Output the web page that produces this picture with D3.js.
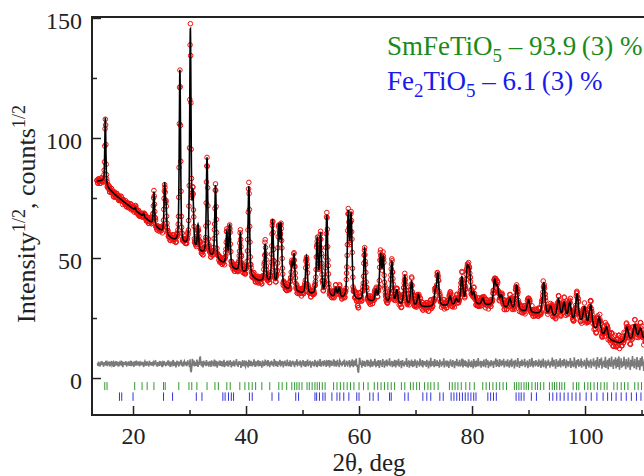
<!DOCTYPE html>
<html>
<head>
<meta charset="utf-8">
<script src="https://cdn.jsdelivr.net/npm/d3@7"></script>
<style>
  body { margin: 0; background: #fff; }
  svg { display: block; font-family: "Liberation Serif", "Times New Roman", Times, serif; }
</style>
</head>
<body>
<svg id="chart" width="644" height="476"></svg>
<script>
// background knots (2theta, sqrt intensity)
const bgX = [13.6, 14.6, 15.6, 17, 18.6, 20, 22, 24, 26, 28, 30, 32, 34, 36, 38, 40, 42, 44, 46, 48, 50, 53, 56, 60, 64, 68, 72, 76, 80, 84, 88, 92, 96, 100, 102, 104, 106, 108, 111.5];
const bgY = [82, 82, 79, 76, 73, 70.5, 67, 63, 59, 56, 54, 52, 50, 47.5, 45, 43, 40.5, 39.5, 37.5, 36, 35, 34, 33, 32, 31, 30, 29.5, 30, 30.5, 30, 28, 26.5, 24.5, 22, 19.5, 16, 14.5, 15.5, 16.5];

// peak positions and peak tops
const peakPos = [15.1, 20.4, 21.9, 23.7, 25.6, 25.85, 28.3, 30.15, 30.6, 31.5, 33.1, 34.6, 36.6, 37.1, 39.0, 40.5,
  43.4, 44.7, 45.8, 46.2, 48.1, 48.5, 50.7, 52.6, 53.2, 54.3, 55.9, 56.5, 58.1, 58.6, 61.0, 63.0, 63.8, 64.3,
  65.8, 66.7, 68.1, 69.3, 70.5, 73.5, 73.95, 76.1, 77.2, 78.2, 79.15, 79.55, 80.3, 81.9, 84.0, 84.5, 85.2,
  86.7, 87.9, 90.0, 92.7, 93.9, 95.3, 96.3, 97.3, 98.6, 99.9, 101.0, 102.5, 103.8, 107.4, 108.8, 109.8];
const peakTop = [108.5, 71, 68.5, 77.5, 79.3, 70, 128, 144.5, 74, 63, 91.5, 80, 60, 63.5, 60.5, 79.7,
  55.5, 65.5, 61.5, 62, 46.5, 50.5, 50.5, 57, 59, 67.3, 37, 37, 67, 66, 53.5, 36, 50, 49,
  48, 36, 42.2, 40, 34.5, 35, 43, 34, 32.5, 41.5, 44, 42.5, 35, 33, 40, 37, 34,
  33, 38.5, 32.5, 39.5, 29.5, 32.5, 31, 31, 34.5, 29, 30, 25, 21, 21, 22, 20.5];

// difference curve (obs - calc, shifted up by 6), every 0.1 deg from 13.7
const diffStart = 13.7, diffStep = 0.1, diffZero = 6;
const diffVals = [
  6.2,5.1,6.8,5.7,6.4,4.9,6.1,7.0,5.5,6.3,5.8,4.7,6.6,6.0,5.3,7.2,5.9,6.4,5.0,6.7,
  5.6,6.9,4.8,6.2,5.9,7.1,5.4,6.0,6.5,4.6,6.8,5.7,6.3,5.2,7.0,6.1,5.5,6.6,4.9,6.4,
  6.0,5.3,7.3,5.8,6.2,4.5,6.7,5.9,6.1,5.4,7.0,6.3,4.8,6.5,5.6,6.9,5.1,6.2,5.8,7.2,
  5.0,6.4,6.0,5.5,6.8,4.7,6.3,5.9,7.1,5.2,6.6,6.1,5.4,6.9,4.9,6.2,5.7,6.5,6.0,5.3,
  6.7,5.6,4.6,6.4,7.0,5.8,6.2,5.1,6.9,5.5,6.3,4.8,7.2,6.0,5.7,6.6,5.2,6.1,6.8,4.9,
  6.5,5.9,6.2,7.4,5.3,6.0,4.7,6.6,5.8,6.3,5.0,7.0,6.1,5.6,6.8,4.5,6.4,5.9,7.1,5.4,
  6.2,4.9,6.7,5.7,6.0,7.3,5.2,6.5,5.9,4.6,6.9,6.1,5.5,6.4,7.5,5.0,6.3,5.8,6.6,4.4,
  6.1,7.2,5.4,6.0,4.8,6.8,5.9,6.3,7.6,5.1,6.5,4.7,6.2,5.7,7.0,6.4,5.3,6.7,4.9,6.0,
  7.4,5.6,6.3,4.5,7.8,3.0,2.4,4.6,8.0,6.9,5.2,7.3,4.8,6.6,6.0,5.1,7.7,6.2,4.6,6.8,
  5.5,8.2,9.0,6.4,5.0,6.9,5.8,4.4,7.2,6.1,5.4,6.7,4.9,7.5,6.0,5.3,6.6,4.7,7.0,5.9,
  6.3,4.6,7.4,5.7,6.8,5.0,6.2,7.7,4.8,6.5,5.9,7.1,4.3,6.0,6.7,5.4,7.3,5.1,6.4,5.8,
  7.0,4.9,6.1,5.6,7.6,4.5,6.6,6.0,5.2,7.2,5.8,6.4,4.7,6.9,5.5,7.4,6.2,4.4,6.7,5.9,
  5.1,7.3,6.0,4.8,6.8,5.7,7.9,5.3,6.2,4.6,7.0,6.4,5.5,6.9,4.2,6.5,5.9,7.5,5.0,6.3,
  6.7,5.2,4.7,7.2,6.1,5.6,6.8,4.4,7.6,5.8,6.3,5.0,7.1,6.0,4.9,6.6,5.4,7.8,5.7,6.2,
  4.6,6.9,6.0,5.3,7.4,4.8,6.5,5.9,7.0,5.1,6.4,4.3,7.3,6.1,5.6,6.8,5.0,7.7,5.5,6.2,
  6.6,4.9,7.5,5.8,6.1,4.5,6.9,5.4,7.2,6.0,5.2,6.7,4.7,7.9,5.7,6.3,5.0,7.0,6.4,4.6,
  6.8,5.5,6.2,7.6,4.8,6.0,5.3,7.1,6.5,4.4,6.9,5.8,7.3,5.1,6.3,4.9,7.7,6.1,5.6,6.6,
  5.0,7.4,6.0,4.7,6.8,5.9,7.2,5.3,6.4,4.5,7.0,6.2,5.6,7.8,4.8,6.5,5.7,6.9,5.2,7.3,
  6.1,4.4,6.7,5.8,7.5,5.0,6.3,6.9,4.6,7.1,5.5,6.0,7.7,4.9,6.6,5.4,7.2,6.2,4.3,6.8,
  5.7,7.0,5.1,6.4,4.8,7.6,6.0,5.5,6.9,4.5,7.3,5.9,6.2,5.0,7.9,6.5,4.7,6.8,5.6,7.1,
  4.9,6.3,7.4,5.4,6.0,4.6,7.0,6.7,5.2,7.5,5.8,4.4,6.6,6.1,7.2,5.0,6.4,5.7,7.8,4.8,
  6.5,5.9,7.1,4.7,6.2,7.6,5.3,6.0,4.5,7.3,6.8,5.5,6.3,4.9,7.0,5.6,6.6,7.7,4.6,6.1,
  5.4,7.2,6.0,4.8,6.9,5.7,7.5,4.4,6.3,6.6,5.1,7.8,5.9,4.5,6.7,7.3,5.2,6.1,8.1,4.7,
  5.6,3.0,2.2,4.9,8.4,7.0,5.5,6.4,4.3,7.4,6.0,5.1,7.1,6.5,4.6,6.8,5.8,7.6,4.9,6.2,
  7.3,5.0,6.6,4.4,7.8,5.7,6.1,4.7,7.0,6.4,5.3,8.0,5.9,4.5,6.9,6.2,5.1,7.5,6.0,4.2,
  6.8,7.4,5.4,6.3,4.6,7.9,5.8,6.7,4.3,7.2,6.0,5.2,7.7,4.8,6.5,6.1,5.5,8.2,4.9,6.4,
  5.7,7.1,4.5,6.9,6.2,5.0,7.6,5.9,4.4,7.3,6.6,5.3,6.0,8.0,4.7,6.8,5.6,7.2,4.1,6.3,
  7.5,5.2,6.4,4.8,7.0,6.1,5.5,8.3,4.6,6.7,5.9,7.4,4.3,6.2,6.9,5.1,7.7,5.8,4.5,7.1,
  6.0,4.9,7.8,5.6,6.5,4.2,7.3,6.3,5.4,6.8,4.7,8.1,5.9,6.1,5.0,7.5,4.4,6.6,6.2,7.0,
  5.3,6.9,4.6,7.6,5.8,6.4,4.0,7.2,6.0,5.5,8.4,4.8,6.7,5.2,7.1,6.3,4.5,7.9,5.7,6.1,
  4.9,7.4,6.2,5.1,6.8,4.3,7.7,5.9,6.5,4.7,7.0,6.0,5.4,8.2,4.4,6.6,5.8,7.3,4.8,6.3,
  7.2,5.6,4.2,6.9,6.1,7.8,5.0,6.4,4.6,7.5,5.7,6.8,4.1,7.1,6.2,5.3,8.0,4.9,6.7,5.5,
  6.0,7.6,4.7,6.3,5.2,8.1,5.9,4.4,7.0,6.5,5.1,7.4,4.8,6.9,5.6,6.2,4.3,7.8,6.1,5.0,
  6.6,4.5,7.3,5.8,6.4,4.0,7.9,6.0,5.4,7.1,4.6,6.7,6.2,5.0,8.3,4.9,6.5,5.7,7.2,4.3,
  7.0,5.9,6.3,4.7,7.7,5.2,6.1,4.4,8.0,6.6,5.5,7.4,4.1,6.8,5.8,6.2,4.8,7.5,6.0,5.3,
  6.9,4.2,7.2,6.4,5.6,8.2,4.6,6.0,7.6,5.1,6.5,4.5,7.9,5.7,6.3,4.9,7.3,6.1,5.4,8.0,
  4.4,6.7,5.9,7.1,4.8,6.2,7.8,5.0,6.6,4.3,7.4,6.0,5.5,8.1,4.7,6.9,5.8,7.2,4.0,6.4,
  7.6,5.3,6.1,4.6,8.3,5.9,6.7,4.2,7.0,6.3,5.1,7.7,4.9,6.5,6.0,5.4,8.0,4.5,6.8,5.7,
  6.2,7.3,4.1,6.6,5.8,7.9,4.7,6.0,5.2,8.4,6.4,4.4,7.1,5.6,6.9,4.8,7.5,6.1,5.3,6.7,
  4.6,7.8,6.0,5.5,7.2,4.2,6.8,6.3,5.0,8.1,4.5,6.6,5.9,7.4,4.0,6.9,6.2,5.1,7.7,5.4,
  6.5,4.3,7.0,6.1,5.7,8.5,4.8,6.4,7.6,5.2,6.0,3.9,7.9,5.8,6.7,4.6,7.3,6.3,5.0,8.2,
  4.4,6.8,5.6,7.5,4.9,6.2,8.0,5.3,6.6,4.1,7.7,6.0,5.5,7.1,4.7,6.9,5.9,8.3,4.2,6.4,
  7.2,5.0,6.3,4.5,8.6,5.8,6.1,4.0,7.4,6.7,5.4,7.9,4.6,6.5,6.0,5.1,8.1,4.3,7.0,5.7,
  6.6,4.8,7.6,5.5,6.2,3.8,8.4,6.0,5.2,7.3,4.4,6.9,5.9,7.8,4.1,6.4,6.1,5.3,8.2,4.7,
  6.8,5.6,7.4,3.7,6.3,8.7,5.0,6.0,4.3,7.9,6.5,5.4,8.5,3.9,6.7,5.8,7.2,4.5,6.1,8.8,
  4.2,6.9,5.5,7.6,3.6,6.4,8.3,5.1,6.0,4.6,8.9,5.7,6.6,3.8,7.7,6.2,5.3,8.6,4.0,6.8,
  7.3,4.7,6.1,9.0,3.5,6.5,5.9,8.2,4.3,7.0,6.3,4.9,8.8,5.2,6.7,3.7,7.9,5.8,6.0,4.4,
  8.5,5.4,6.6,3.4,7.6,6.2,4.8,9.2,5.0,6.9,4.1,8.0,5.7,6.3,3.6,8.7,6.0,4.6,7.4,5.5,
  3.3,8.3,6.4,4.9,9.1,5.3,6.8,2.9,7.8,6.1,4.5,8.9,5.6,3.8,7.2,6.5,4.2,9.0,5.9,6.3
];

// Bragg reflection positions
const reflSm = [15.0, 15.4, 20.3, 21.6, 22.5, 23.7, 25.4, 25.7, 28.1, 29.9, 30.4, 31.3, 33.1, 34.5, 35.1, 36.6, 37.2,
  38.9, 39.8, 40.5, 41.1, 41.7, 42.8, 44.2, 45.8, 46.4, 47.2, 48.1, 48.6, 49.0, 49.4, 49.9, 50.8, 51.2, 51.7, 52.2,
  52.6, 53.0, 53.5, 54.0, 55.5, 56.1, 56.7, 57.3, 57.9, 58.5, 59.1, 60.0, 60.8, 61.6, 62.7, 63.3, 63.9, 64.5, 65.1,
  65.7, 66.3, 67.5, 68.1, 69.1, 69.6, 70.2, 70.7, 71.6, 72.2, 72.7, 73.3, 74.0, 76.0, 76.5, 77.0, 77.5, 78.1, 78.9,
  79.6, 80.4, 81.9, 82.5, 83.1, 83.7, 84.3, 84.9, 85.5, 86.1, 87.5, 87.9, 88.3, 88.7, 89.2, 89.6, 90.0, 90.6, 91.2,
  91.6, 92.1, 92.7, 93.7, 94.2, 94.6, 95.0, 95.5, 95.9, 96.4, 97.9, 98.5, 98.9, 99.9, 100.5, 101.0, 101.6, 102.2,
  102.8, 103.4, 103.9, 105.1, 105.7, 106.4, 107.0, 107.6, 108.8, 109.4, 110.0];
const reflFe = [17.6, 18.0, 20.0, 25.4, 27.0, 31.2, 32.2, 35.9, 36.3, 36.9, 37.4, 37.8, 40.6, 41.1, 44.6, 45.8, 48.8,
  49.3, 52.2, 52.5, 53.0, 53.6, 54.0, 55.2, 56.1, 56.6, 57.3, 58.2, 59.6, 60.0, 61.9, 62.5, 63.4, 65.4, 65.7, 68.1,
  68.7, 71.3, 72.0, 72.7, 74.3, 74.9, 76.3, 76.8, 77.3, 77.8, 78.3, 78.8, 79.3, 79.8, 80.3, 80.7, 82.8, 83.3, 83.8,
  84.3, 87.8, 88.3, 88.7, 89.2, 90.5, 91.4, 93.7, 94.3, 95.0, 95.6, 96.3, 97.0, 97.7, 98.4, 99.1, 100.2, 101.1,
  102.1, 103.2, 104.0, 104.7, 105.5, 106.4, 107.3, 108.2, 109.1, 109.9];

const xTicks = [20, 40, 60, 80, 100];
const xMinor = [30, 50, 70, 90, 110];
const yTicks = [0, 50, 100, 150];
const yMinor = [25, 75, 125];

const svg = d3.select('#chart');
const serif = '"Liberation Serif", "Times New Roman", Times, serif';

// scales
const x = d3.scaleLinear().domain([12.74, 111.5]).range([92, 650]);
const y = d3.scaleLinear().domain([-15.4, 150.4]).range([415, 17]);
const bg = d3.scaleLinear().domain(bgX).range(bgY).clamp(true);

// pseudo-Voigt peak shape
function fwhm(p) { return 0.22 + 0.004 * (p - 14); }
function pv(dx, w) {
  const u2 = 4 * (dx / w) * (dx / w);
  return 0.5 / (1 + u2) + 0.5 * Math.exp(-Math.LN2 * u2);
}
const amps = peakPos.map((p, i) => peakTop[i] - bg(p));
function calc(t) {
  let s = bg(t);
  for (let i = 0; i < peakPos.length; i++) {
    const dx = t - peakPos[i];
    if (Math.abs(dx) < 6) s += amps[i] * pv(dx, fwhm(peakPos[i]));
  }
  return s;
}

const calcPts = d3.range(13.6, 111, 0.02).map(t => [t, calc(t)]);
const obsPts = d3.range(13.6, 111, 0.05).map(t => {
  const k = Math.max(0, Math.min(diffVals.length - 1, Math.round((t - diffStart) / diffStep)));
  return [t, calc(t) + diffVals[k] - diffZero];
});
const diffPts = diffVals.map((v, i) => [diffStart + i * diffStep, v]);

// clip
svg.append('defs').append('clipPath').attr('id', 'clip')
  .append('rect').attr('x', 92).attr('y', 17).attr('width', 560).attr('height', 398);

const plot = svg.append('g').attr('clip-path', 'url(#clip)');

// difference
plot.append('path')
  .datum(diffPts)
  .attr('d', d3.line().x(d => x(d[0])).y(d => y(d[1])))
  .style('fill', 'none')
  .style('stroke', '#7a7a7a')
  .style('stroke-width', 1.6);

// reflection ticks
plot.selectAll('.sm').data(reflSm)
  .join('line')
  .attr('class', 'sm')
  .attr('x1', d => x(d)).attr('x2', d => x(d))
  .attr('y1', y(-1.7)).attr('y2', y(-5))
  .style('stroke', '#2e9a2e')
  .style('stroke-width', 1);

plot.selectAll('.fe').data(reflFe)
  .join('line')
  .attr('class', 'fe')
  .attr('x1', d => x(d)).attr('x2', d => x(d))
  .attr('y1', y(-6)).attr('y2', y(-9.5))
  .style('stroke', '#3333dd')
  .style('stroke-width', 1);

// observed
plot.selectAll('circle').data(obsPts)
  .join('circle')
  .attr('cx', d => x(d[0]))
  .attr('cy', d => y(d[1]))
  .attr('r', 2.3)
  .style('fill', 'none')
  .style('stroke', '#f01010')
  .style('stroke-width', 1);

// calculated
plot.append('path')
  .datum(calcPts)
  .attr('d', d3.line().x(d => x(d[0])).y(d => y(d[1])))
  .style('fill', 'none')
  .style('stroke', '#000')
  .style('stroke-width', 1.6);

// axes
const axisColor = '#222';
function styleAxis(g) {
  g.attr('font-family', serif);
  g.select('.domain').remove();
  g.selectAll('.tick line').style('stroke', axisColor).style('stroke-width', 1.5);
  g.selectAll('.tick text').style('font-size', '24px').style('fill', axisColor)
    .style('font-family', serif);
}

svg.append('g')
  .attr('transform', 'translate(0,415)')
  .call(d3.axisBottom(x).tickValues(xTicks).tickSize(-9).tickSizeOuter(0).tickPadding(12).tickFormat(d3.format('d')))
  .call(styleAxis);
svg.append('g')
  .attr('transform', 'translate(0,415)')
  .call(d3.axisBottom(x).tickValues(xMinor).tickSize(-5).tickSizeOuter(0).tickFormat(''))
  .call(styleAxis);

svg.append('g')
  .attr('transform', 'translate(92,0)')
  .call(d3.axisLeft(y).tickValues(yTicks).tickSize(-9).tickSizeOuter(0).tickPadding(10).tickFormat(d3.format('d')))
  .call(styleAxis)
  .selectAll('.tick text').attr('dy', '0.42em');
svg.append('g')
  .attr('transform', 'translate(92,0)')
  .call(d3.axisLeft(y).tickValues(yMinor).tickSize(-5).tickSizeOuter(0).tickFormat(''))
  .call(styleAxis);

// frame
svg.append('path')
  .attr('d', 'M 650,17 L 92,17 L 92,415 L 650,415')
  .style('fill', 'none')
  .style('stroke', axisColor)
  .style('stroke-width', 2);

// axis titles
svg.append('text')
  .attr('x', 369).attr('y', 471)
  .attr('text-anchor', 'middle')
  .style('font-size', '25px').style('fill', axisColor)
  .text('2θ, deg');

const yt = svg.append('text')
  .attr('transform', 'translate(35,214) rotate(-90)')
  .attr('text-anchor', 'middle')
  .style('font-size', '26px').style('fill', axisColor);
yt.append('tspan').text('Intensity');
yt.append('tspan').attr('dy', -10).style('font-size', '18px').text('1/2');
yt.append('tspan').attr('dy', 10).text(', counts');
yt.append('tspan').attr('dy', -10).style('font-size', '18px').text('1/2');

// phase legend
const l1 = svg.append('text').attr('x', 387).attr('y', 55)
  .style('font-size', '27px').style('fill', '#1a8a1a');
l1.append('tspan').text('SmFeTiO');
l1.append('tspan').attr('dy', 7).style('font-size', '19px').text('5');
l1.append('tspan').attr('dy', -7).text(' – 93.9\u2009(3) %');

const l2 = svg.append('text').attr('x', 387).attr('y', 90)
  .style('font-size', '27px').style('fill', '#1a1aee');
l2.append('tspan').text('Fe');
l2.append('tspan').attr('dy', 7).style('font-size', '19px').text('2');
l2.append('tspan').attr('dy', -7).text('TiO');
l2.append('tspan').attr('dy', 7).style('font-size', '19px').text('5');
l2.append('tspan').attr('dy', -7).text(' – 6.1\u2009(3) %');
</script>
</body>
</html>
